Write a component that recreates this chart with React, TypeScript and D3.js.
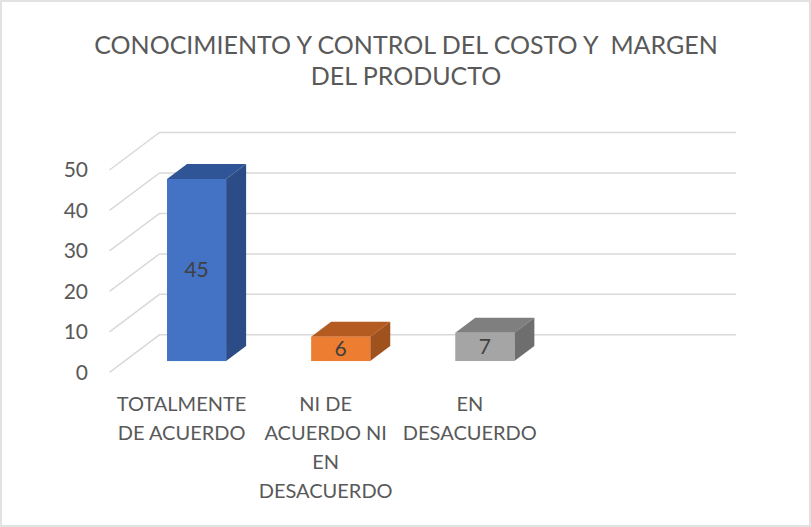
import { scaleBand, scaleLinear } from 'd3'

// Columnas 3D: conocimiento y control del costo y margen del producto.
// El plano frontal usa las escalas de d3; la profundidad se simula con un desplazamiento fijo.

const titleLines = ['CONOCIMIENTO Y CONTROL DEL COSTO Y  MARGEN', 'DEL PRODUCTO']
const categories = ['TOTALMENTE DE ACUERDO', 'NI DE ACUERDO NI EN DESACUERDO', 'EN DESACUERDO']
const categoryLines = [
  ['TOTALMENTE', 'DE ACUERDO'],
  ['NI DE', 'ACUERDO NI', 'EN', 'DESACUERDO'],
  ['EN', 'DESACUERDO'],
]
const values = [45, 6, 7]
const yTicks = [0, 10, 20, 30, 40, 50]
// Excel deja un hueco vacío al final del eje de categorías
const emptySlots = ['']

const faceColors = [
  { front: '#4472C4', top: '#2F5597', side: '#2B4C86' },
  { front: '#ED7D31', top: '#B45B22', side: '#A0521E' },
  { front: '#A5A5A5', top: '#7F7F7F', side: '#6E6E6E' },
]

const W = 811
const H = 527
const PLOT_LEFT = 109.5
const PLOT_RIGHT = 686
const DEPTH_X = 50
const DEPTH_Y = 37.5
const BAR_FRONT = 0.3
const BAR_BACK = 0.7
const FONT = "Lato, 'Open Sans', sans-serif"
const TEXT = '#595959'

export default function App() {
  const x = scaleBand<string>()
    .domain([...categories, ...emptySlots])
    .range([PLOT_LEFT, PLOT_RIGHT])
    .paddingInner(0.59)
    .paddingOuter(0.295)
  const y = scaleLinear().domain([0, 50]).range([372.3, 170])
  const bw = x.bandwidth()

  const ox1 = BAR_FRONT * DEPTH_X
  const oy1 = -BAR_FRONT * DEPTH_Y
  const ox2 = BAR_BACK * DEPTH_X
  const oy2 = -BAR_BACK * DEPTH_Y

  return (
    <svg
      width={W}
      height={H}
      viewBox={`0 0 ${W} ${H}`}
      style={{ position: 'absolute', left: 0, top: 0, background: '#fff' }}
      fontFamily={FONT}
    >
      <rect x={1} y={1} width={W - 2} height={H - 2} fill="#fff" stroke="#D9D9D9" strokeWidth={1.5} />

      {titleLines.map((t, i) => (
        <text key={i} x={406} y={54 + i * 31} textAnchor="middle" fontSize={25} fill={TEXT} style={{ whiteSpace: 'pre' }}>
          {t}
        </text>
      ))}

      {/* pared lateral + pared de fondo */}
      {yTicks.map((t) => {
        const yy = y(t)
        return (
          <polyline
            key={t}
            points={`${PLOT_LEFT},${yy} ${PLOT_LEFT + DEPTH_X},${yy - DEPTH_Y} ${PLOT_RIGHT + DEPTH_X},${yy - DEPTH_Y}`}
            fill="none"
            stroke="#D9D9D9"
            strokeWidth={1.5}
          />
        )
      })}

      {yTicks.map((t) => (
        <text key={t} x={88} y={y(t)} dy="0.35em" textAnchor="end" fontSize={21} fill={TEXT}>
          {t}
        </text>
      ))}

      {categories.map((c, i) => {
        const x0 = x(c) ?? 0
        const top = y(values[i])
        const base = y(0)
        const col = faceColors[i]
        const fx = x0 + ox1
        return (
          <g key={c}>
            <polygon
              points={`${fx},${top + oy1} ${fx + bw},${top + oy1} ${x0 + bw + ox2},${top + oy2} ${x0 + ox2},${top + oy2}`}
              fill={col.top}
            />
            <polygon
              points={`${fx + bw},${top + oy1} ${x0 + bw + ox2},${top + oy2} ${x0 + bw + ox2},${base + oy2} ${fx + bw},${base + oy1}`}
              fill={col.side}
            />
            <rect x={fx} y={top + oy1} width={bw} height={base - top} fill={col.front} />
            <text
              x={fx + bw / 2}
              y={(top + base) / 2 + oy1}
              dy="0.35em"
              textAnchor="middle"
              fontSize={21}
              fill="#404040"
            >
              {values[i]}
            </text>
          </g>
        )
      })}

      {categories.map((c, i) => (
        <text key={c} x={(x(c) ?? 0) + bw / 2} textAnchor="middle" fontSize={20} fill={TEXT}>
          {categoryLines[i].map((line, j) => (
            <tspan key={j} x={(x(c) ?? 0) + bw / 2} y={411 + j * 29}>
              {line}
            </tspan>
          ))}
        </text>
      ))}
    </svg>
  )
}
